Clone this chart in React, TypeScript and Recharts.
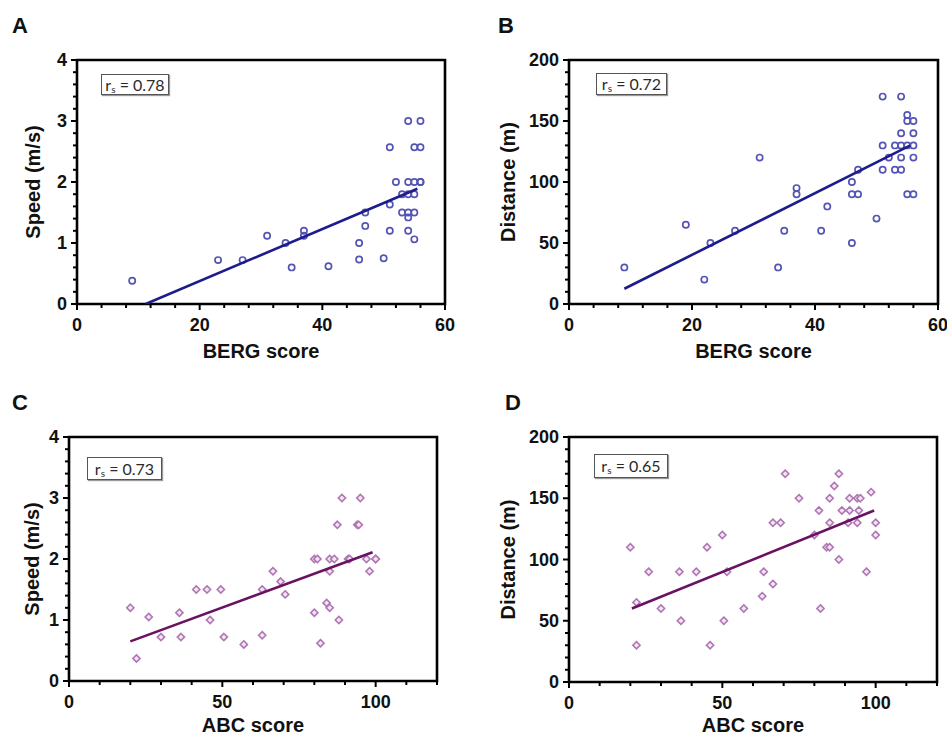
import React from 'react';
import { ScatterChart, Scatter, XAxis, YAxis, ReferenceArea, Label } from 'recharts';

// ---------- DATA ----------
const bergSpeed: [number, number][] = [
  [9, 0.38], [23, 0.72], [27, 0.72], [31, 1.12], [34, 1.0], [35, 0.6], [37, 1.2], [37, 1.12],
  [41, 0.62], [46, 1.0], [46, 0.73], [47, 1.5], [47, 1.28], [50, 0.75], [51, 2.57], [51, 1.63],
  [51, 1.2], [52, 2.0], [53, 1.8], [53, 1.5], [54, 3.0], [54, 2.0], [54, 1.8], [54, 1.5],
  [54, 1.42], [54, 1.2], [55, 2.57], [55, 2.0], [55, 1.8], [55, 1.5], [55, 1.06], [56, 3.0],
  [56, 2.57], [56, 2.0], [56, 2.0],
];
const bergSpeedFit: [number, number][] = [[11.2, 0], [55.5, 1.89]];

const bergDistance: [number, number][] = [
  [9, 30], [19, 65], [22, 20], [23, 50], [27, 60], [31, 120], [34, 30], [35, 60], [37, 95],
  [37, 90], [41, 60], [42, 80], [46, 100], [46, 90], [46, 50], [47, 110], [47, 90], [50, 70],
  [51, 170], [51, 130], [51, 110], [52, 120], [53, 130], [53, 110], [54, 170], [54, 140],
  [54, 130], [54, 120], [54, 110], [55, 155], [55, 150], [55, 130], [55, 90], [56, 150],
  [56, 140], [56, 130], [56, 120], [56, 90],
];
const bergDistanceFit: [number, number][] = [[9, 12.5], [55.5, 130]];

const abcSpeed: [number, number][] = [
  [20, 1.2], [22, 0.37], [26, 1.05], [30, 0.72], [36, 1.12], [36.5, 0.72], [41.5, 1.5], [45, 1.5],
  [46, 1.0], [49.5, 1.5], [50.5, 0.72], [57, 0.6], [63, 0.75], [63, 1.5], [66.5, 1.8], [69, 1.63],
  [70.5, 1.42], [80, 2.0], [81, 2.0], [80, 1.12], [82, 0.62], [84, 1.28], [85, 1.2], [85, 2.0],
  [86.5, 2.0], [85, 1.8], [87.5, 2.56], [88, 1.0], [89, 3.0], [91, 2.0], [91.5, 2.0], [94, 2.56],
  [94.5, 2.56], [95, 3.0], [97, 2.0], [98, 1.8], [100, 2.0], [100, 2.0],
];
const abcSpeedFit: [number, number][] = [[20, 0.65], [99, 2.11]];

const abcDistance: [number, number][] = [
  [20, 110], [22, 65], [22, 30], [26, 90], [30, 60], [36, 90], [36.5, 50], [41.5, 90], [45, 110],
  [46, 30], [50, 120], [50.5, 50], [51.5, 90], [57, 60], [63, 70], [63.5, 90], [66.5, 80],
  [66.5, 130], [69, 130], [70.5, 170], [75, 150], [80, 120], [81.5, 140], [82, 60], [84, 110],
  [85, 110], [85, 130], [85, 150], [86.5, 160], [88, 170], [88, 100], [89, 140], [91, 130],
  [91.5, 140], [91.5, 150], [94, 130], [94, 150], [94.5, 140], [95, 150], [97, 90], [98.5, 155],
  [100, 130], [100, 120],
];
const abcDistanceFit: [number, number][] = [[20.5, 60], [99.5, 140]];

// tick labels
const bergTicks = [0, 20, 40, 60];
const abcTicks = [0, 50, 100];
const speedTicks = [0, 1, 2, 3, 4];
const distanceTicks = [0, 50, 100, 150, 200];

const speedLabel = 'Speed (m/s)';
const distanceLabel = 'Distance (m)';
const bergLabel = 'BERG score';
const abcLabel = 'ABC score';

// ---------- STYLE ----------
const FONT = '"Liberation Sans", Arial, sans-serif';
const BLUE_PT = '#5454b6';
const BLUE_LINE = '#1c1c8c';
const PURPLE_PT = '#b077b4';
const PURPLE_LINE = '#6a1262';

function minorTicks(max: number, step: number): number[] {
  const out: number[] = [];
  for (let i = 0; i * step <= max + 1e-9; i++) out.push(+(i * step).toFixed(6));
  return out;
}

function makeXTick(majors: number[]) {
  return (props: any) => {
    const { x, y, payload } = props;
    const v = payload.value;
    const isMajor = majors.some((m) => Math.abs(m - v) < 1e-9);
    return (
      <g>
        <line x1={x} x2={x} y1={y} y2={y + (isMajor ? 6 : 4)} stroke="#000" strokeWidth={2} />
        {isMajor && (
          <text x={x} y={y + 21} textAnchor="middle" dominantBaseline="central"
            fontFamily={FONT} fontWeight="bold" fontSize={18} fill="#111">{v}</text>
        )}
      </g>
    );
  };
}

function makeYTick(majors: number[]) {
  return (props: any) => {
    const { x, y, payload } = props;
    const v = payload.value;
    const isMajor = majors.some((m) => Math.abs(m - v) < 1e-9);
    return (
      <g>
        <line x1={x} x2={x - (isMajor ? 6 : 4)} y1={y} y2={y} stroke="#000" strokeWidth={2} />
        {isMajor && (
          <text x={x - 10} y={y} textAnchor="end" dominantBaseline="central"
            fontFamily={FONT} fontWeight="bold" fontSize={18} fill="#111">{v}</text>
        )}
      </g>
    );
  };
}

const circleShape = (color: string) => (props: any) => (
  <circle cx={props.cx} cy={props.cy} r={3.1} fill="none" stroke={color} strokeWidth={1.7} />
);
const diamondShape = (color: string) => (props: any) => {
  const { cx, cy } = props;
  const s = 3.6;
  return (
    <path d={`M${cx},${cy - s}L${cx + s},${cy}L${cx},${cy + s}L${cx - s},${cy}Z`}
      fill="#f3e6f3" stroke={color} strokeWidth={1.6} />
  );
};
const noShape = () => <g />;

type PanelProps = {
  L: number; T: number; W: number; H: number;
  points: [number, number][]; fit: [number, number][];
  xMax: number; xMajors: number[]; xMinorStep: number;
  yMax: number; yMajors: number[]; yMinorStep: number;
  xTitle: string; xTitleDy: number; yTitle: string; yTitleDx: number;
  ptColor: string; lineColor: string; diamond?: boolean;
};

function Panel(p: PanelProps) {
  const left = 80, right = 10, top = 10, bottom = 60;
  const data = p.points.map(([x, y]) => ({ x, y }));
  const fit = p.fit.map(([x, y]) => ({ x, y }));
  return (
    <div style={{ position: 'absolute', left: p.L - left, top: p.T - top }}>
      <ScatterChart width={p.W + left + right} height={p.H + top + bottom}
        margin={{ top, right, bottom: 0, left: 0 }}>
        <XAxis type="number" dataKey="x" domain={[0, p.xMax]} allowDataOverflow
          ticks={minorTicks(p.xMax, p.xMinorStep)} interval={0} tickSize={0} tickMargin={0}
          axisLine={false} tickLine={false} height={bottom} tick={makeXTick(p.xMajors)}>
          <Label content={(lp: any) => {
            const vb = lp.viewBox || {};
            return (
              <text x={vb.x + vb.width / 2} y={vb.y + p.xTitleDy} textAnchor="middle"
                fontFamily={FONT} fontWeight="bold" fontSize={20} fill="#111">{p.xTitle}</text>
            );
          }} />
        </XAxis>
        <YAxis type="number" dataKey="y" domain={[0, p.yMax]} allowDataOverflow
          ticks={minorTicks(p.yMax, p.yMinorStep)} interval={0} tickSize={0} tickMargin={0}
          axisLine={false} tickLine={false} width={left} tick={makeYTick(p.yMajors)}>
          <Label content={(lp: any) => {
            const vb = lp.viewBox || {};
            const cx = vb.x + vb.width - p.yTitleDx;
            const cy = vb.y + vb.height / 2;
            return (
              <text x={cx} y={cy} textAnchor="middle" dominantBaseline="central"
                transform={`rotate(-90 ${cx} ${cy})`}
                fontFamily={FONT} fontWeight="bold" fontSize={20} fill="#111">{p.yTitle}</text>
            );
          }} />
        </YAxis>
        <Scatter data={data} isAnimationActive={false}
          shape={p.diamond ? diamondShape(p.ptColor) : circleShape(p.ptColor)} />
        <Scatter data={fit} isAnimationActive={false} shape={noShape}
          line={{ stroke: p.lineColor, strokeWidth: 2.6 }} />
        <ReferenceArea x1={0} x2={p.xMax} y1={0} y2={p.yMax} fill="none"
          stroke="#000" strokeWidth={2.6} fillOpacity={0} />
      </ScatterChart>
    </div>
  );
}

function RsBox({ x, y, w, h, value }: { x: number; y: number; w: number; h: number; value: string }) {
  return (
    <div style={{
      position: 'absolute', left: x, top: y, width: w, height: h, boxSizing: 'border-box',
      border: '1.5px solid #555', boxShadow: '1px 1px 1px #999', background: '#fff',
      display: 'flex', alignItems: 'center', justifyContent: 'center',
      fontFamily: 'Lato, "Open Sans", sans-serif', fontSize: 16, color: '#2a2a2a', whiteSpace: 'nowrap',
    }}>
      <span>r<sub style={{ fontSize: 10, verticalAlign: -2 }}>s</sub> = {value}</span>
    </div>
  );
}

function Letter({ x, y, t }: { x: number; y: number; t: string }) {
  return (
    <div style={{
      position: 'absolute', left: x, top: y, fontFamily: FONT, fontWeight: 'bold',
      fontSize: 22, lineHeight: '22px', color: '#111',
    }}>{t}</div>
  );
}

export default function App() {
  return (
    <div style={{ position: 'absolute', left: 0, top: 0, width: 947, height: 737, background: '#fff', overflow: 'hidden' }}>
      <Panel L={77} T={60} W={368} H={244} points={bergSpeed} fit={bergSpeedFit}
        xMax={60} xMajors={bergTicks} xMinorStep={4} yMax={4} yMajors={speedTicks} yMinorStep={0.2}
        xTitle={bergLabel} xTitleDy={54} yTitle={speedLabel} yTitleDx={44} ptColor={BLUE_PT} lineColor={BLUE_LINE} />
      <Panel L={569} T={60} W={369} H={244} points={bergDistance} fit={bergDistanceFit}
        xMax={60} xMajors={bergTicks} xMinorStep={4} yMax={200} yMajors={distanceTicks} yMinorStep={10}
        xTitle={bergLabel} xTitleDy={54} yTitle={distanceLabel} yTitleDx={61} ptColor={BLUE_PT} lineColor={BLUE_LINE} />
      <Panel L={69} T={437} W={368} H={244} points={abcSpeed} fit={abcSpeedFit}
        xMax={120} xMajors={abcTicks} xMinorStep={10} yMax={4} yMajors={speedTicks} yMinorStep={0.2}
        xTitle={abcLabel} xTitleDy={51} yTitle={speedLabel} yTitleDx={37} ptColor={PURPLE_PT} lineColor={PURPLE_LINE} diamond />
      <Panel L={569} T={437} W={368} H={245} points={abcDistance} fit={abcDistanceFit}
        xMax={120} xMajors={abcTicks} xMinorStep={10} yMax={200} yMajors={distanceTicks} yMinorStep={10}
        xTitle={abcLabel} xTitleDy={50} yTitle={distanceLabel} yTitleDx={61} ptColor={PURPLE_PT} lineColor={PURPLE_LINE} diamond />
      <RsBox x={101} y={74} w={68} h={21} value="0.78" />
      <RsBox x={596} y={73} w={71} h={22} value="0.72" />
      <RsBox x={87} y={457} w={75} h={23} value="0.73" />
      <RsBox x={594} y={454} w={74} h={24} value="0.65" />
      <Letter x={12} y={15} t="A" />
      <Letter x={498} y={15} t="B" />
      <Letter x={12} y={392} t="C" />
      <Letter x={505} y={392} t="D" />
    </div>
  );
}
